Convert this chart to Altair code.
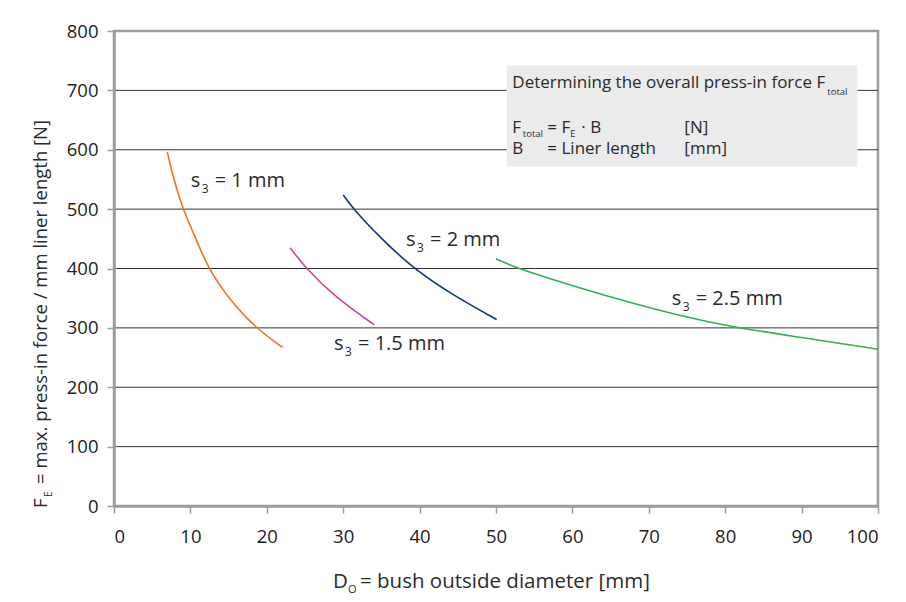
import altair as alt
import pandas as pd

FONT = "Open Sans"
TXT = "#2a2a2a"
FRAME = "#9d9d9d"

# ---- data ----
s1_x = [6.98, 7.85, 8.94, 10.73, 12.35, 14.9, 18.59, 22.08]
s1_y = [596, 549, 502, 450, 400, 351, 299, 267]
s15_x = [23.04, 25.13, 28.93, 34.07]
s15_y = [435, 400, 352, 305]
s2_x = [30.0, 31.33, 35.0, 39.18, 43.98, 50.09]
s2_y = [524, 500, 450, 400, 358, 314]
s25_x = [50.0, 52.9, 58.0, 65.4, 74.1, 81.5, 90.0, 100.0]
s25_y = [416, 400, 379, 350, 320, 300, 284, 264]

series_names = ["s1", "s15", "s2", "s25"]
series_colors = ["#f37021", "#c9489d", "#0b3b70", "#2db34a"]

x_ticks = [0, 10, 20, 30, 40, 50, 60, 70, 80, 90, 100]
y_ticks = [0, 100, 200, 300, 400, 500, 600, 700, 800]
grid_values = [100, 200, 300, 400, 500, 600, 700]

rows = []
for name, xs, ys in [("s1", s1_x, s1_y), ("s15", s15_x, s15_y),
                     ("s2", s2_x, s2_y), ("s25", s25_x, s25_y)]:
    for i, (a, b) in enumerate(zip(xs, ys)):
        rows.append({"series": name, "D": a, "F": b, "i": i})
df = pd.DataFrame(rows)
one = pd.DataFrame({"a": [0]})

xscale = alt.Scale(domain=[0, 100], nice=False, zero=False)
yscale = alt.Scale(domain=[0, 800], nice=False, zero=False)

grid = alt.Chart(pd.DataFrame({"g": grid_values})).mark_rule(
    color="#333333", strokeWidth=1
).encode(y=alt.Y("g:Q", scale=yscale))

lines = alt.Chart(df).mark_line(strokeWidth=1.6, interpolate="basis").encode(
    x=alt.X("D:Q", scale=xscale,
            axis=alt.Axis(values=x_ticks, title=None, grid=False, labelPadding=14,
                          zindex=1)),
    y=alt.Y("F:Q", scale=yscale,
            axis=alt.Axis(values=y_ticks, title=None, grid=False, labelPadding=9,
                          zindex=1)),
    color=alt.Color("series:N", scale=alt.Scale(domain=series_names, range=series_colors),
                    legend=None),
    order="i:Q",
    detail="series:N",
)

box = alt.Chart(one).mark_rect(color="#ebebeb").encode(
    x=alt.datum(51.4), x2=alt.datum(97.3), y=alt.datum(742), y2=alt.datum(572)
)


def txt(x, y, s, size, dx=0, dy=0):
    return alt.Chart(one).mark_text(
        text=s, fontSize=size, dx=dx, dy=dy, align="left", baseline="alphabetic",
        font=FONT, color=TXT
    ).encode(x=alt.datum(x), y=alt.datum(y))


def ptxt(px, py, s, size, angle=0):
    kw = dict(text=s, fontSize=size, align="left", baseline="alphabetic",
              font=FONT, color=TXT)
    if angle:
        kw["angle"] = angle
    return alt.Chart(one).mark_text(**kw).encode(x=alt.value(px), y=alt.value(py))


LBL = 20
SUB = 12
labels = []
for (lx, ly, rest) in [(10.04, 537.8, "= 1 mm"), (28.8, 262.7, "= 1.5 mm"),
                       (38.22, 438.4, "= 2 mm"), (73.0, 338.5, "= 2.5 mm")]:
    labels += [txt(lx, ly, "s", LBL), txt(lx, ly, "3", SUB, dx=11, dy=6),
               txt(lx, ly, rest, LBL, dx=24)]

BX, BY = 52.14, 703.5
BF = 17
BS = 9.5
boxtext = [
    txt(BX, BY, "Determining the overall press-in force F", BF),
    txt(BX, BY, "total", BS, dx=315, dy=6.7),
    txt(BX, BY, "F", BF, dy=44.4),
    txt(BX, BY, "total", BS, dx=10.5, dy=49),
    txt(BX, BY, "= F", BF, dx=35, dy=44.4),
    txt(BX, BY, "E", BS, dx=58, dy=49),
    txt(BX, BY, "\u00b7 B", BF, dx=69, dy=44.4),
    txt(BX, BY, "[N]", BF, dx=172, dy=44.4),
    txt(BX, BY, "B", BF, dy=65.7),
    txt(BX, BY, "= Liner length", BF, dx=35, dy=65.7),
    txt(BX, BY, "[mm]", BF, dx=172, dy=65.7),
]

XT = 20.5
YT = 18.5
titles = [
    ptxt(219, 557, "D", XT),
    ptxt(234, 562, "O", 11),
    ptxt(246, 557, "= bush outside diameter [mm]", XT),
    ptxt(-67, 477, "F", YT, angle=270),
    ptxt(-62, 466, "E", 10, angle=270),
    ptxt(-67, 453, "= max. press-in force / mm liner length [N]", YT, angle=270),
]

chart = alt.layer(grid, box, lines, *labels, *boxtext, *titles).properties(
    width=764, height=475,
    autosize=alt.AutoSizeParams(type="none"),
    padding={"left": 106, "top": 23, "right": 20, "bottom": 92},
    background="white",
).configure_view(
    stroke=FRAME, strokeWidth=2.5
).configure_axis(
    domainColor=FRAME, domainWidth=2.5, tickColor=FRAME, tickWidth=1.5, tickSize=7,
    labelFont=FONT, labelFontSize=18.5, labelColor="#222222"
)

chart.save("out.html", embed_options={"renderer": "svg", "actions": False})
